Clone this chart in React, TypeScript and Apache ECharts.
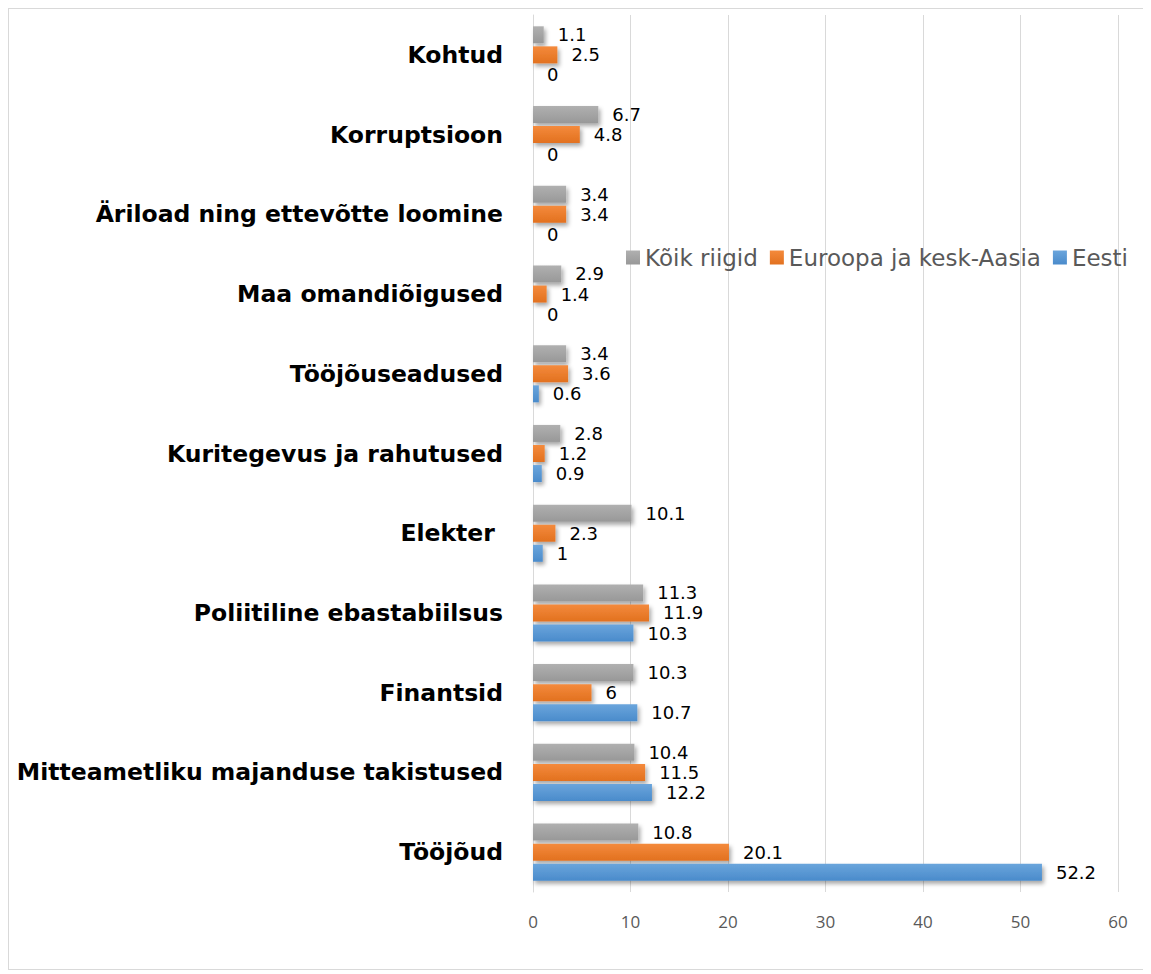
import React, { useEffect, useRef } from "react";
import * as echarts from "echarts";

const categories = [
  "Tööjõud",
  "Mitteametliku majanduse takistused",
  "Finantsid",
  "Poliitiline ebastabiilsus",
  "Elekter ",
  "Kuritegevus ja rahutused",
  "Tööjõuseadused",
  "Maa omandiõigused",
  "Äriload ning ettevõtte loomine",
  "Korruptsioon",
  "Kohtud",
];
const koik = [10.8, 10.4, 10.3, 11.3, 10.1, 2.8, 3.4, 2.9, 3.4, 6.7, 1.1];
const euroopa = [20.1, 11.5, 6, 11.9, 2.3, 1.2, 3.6, 1.4, 3.4, 4.8, 2.5];
const eesti = [52.2, 12.2, 10.7, 10.3, 1, 0.9, 0.6, 0, 0, 0, 0];
const seriesNames = ["Kõik riigid", "Euroopa ja kesk-Aasia", "Eesti"];
const xTicks = { min: 0, max: 60, interval: 10 };

const FONT = "'DejaVu Sans', sans-serif";

function grad(c1: string, c2: string) {
  return new echarts.graphic.LinearGradient(0, 0, 0, 1, [
    { offset: 0, color: c1 },
    { offset: 1, color: c2 },
  ]);
}

export default function App() {
  const ref = useRef<HTMLDivElement>(null);
  useEffect(() => {
    if (!ref.current) return;
    const chart = echarts.init(ref.current, undefined, { renderer: "svg" });
    const colors = [
      grad("#b0b0b0", "#989898"),
      grad("#f48a3c", "#e2711f"),
      grad("#6aa5dc", "#4a8bcb"),
    ];
    const legendColors = ["#a5a5a5", "#ed7d31", "#5b9bd5"];
    const datasets = [koik, euroopa, eesti];
    chart.setOption({
      animation: false,
      color: legendColors,
      grid: { left: 524, right: 29, top: 6, bottom: 77, containLabel: false },
      legend: {
        data: seriesNames,
        left: 612,
        top: 232,
        itemWidth: 14,
        itemHeight: 14,
        itemGap: 12,
        icon: "rect",
        textStyle: { fontFamily: FONT, fontSize: 23, color: "#595959" },
      },
      xAxis: {
        type: "value",
        min: xTicks.min,
        max: xTicks.max,
        interval: xTicks.interval,
        axisLine: { show: false },
        axisTick: { show: false },
        splitLine: { lineStyle: { color: "#d9d9d9", width: 1 } },
        axisLabel: { fontFamily: "'Open Sans', sans-serif", fontSize: 17, color: "#595959", margin: 21 },
      },
      yAxis: {
        type: "category",
        data: categories,
        axisLine: { show: true, lineStyle: { color: "#d9d9d9" } },
        axisTick: { show: false },
        axisLabel: {
          fontFamily: FONT,
          fontSize: 23.5,
          fontWeight: "bold",
          color: "#000000",
          margin: 30,
        },
      },
      series: datasets.map((d, i) => ({
        name: seriesNames[i],
        type: "bar",
        data: d,
        barWidth: 17,
        barGap: "18%",
        itemStyle: {
          color: colors[i],
          shadowColor: "rgba(0,0,0,0.35)",
          shadowBlur: 4,
          shadowOffsetX: 2,
          shadowOffsetY: 3,
        },
        label: {
          show: true,
          position: "right",
          distance: 14,
          fontFamily: FONT,
          fontSize: 18,
          lineHeight: 18,
          color: "#000000",
        },
      })),
    });
    return () => chart.dispose();
  }, []);
  return (
    <div
      style={{
        width: 1140,
        height: 962,
        border: "1px solid #d9d9d9",
        boxSizing: "border-box",
        background: "#fff",
      }}
    >
      <div ref={ref} style={{ width: 1138, height: 960 }} />
    </div>
  );
}
